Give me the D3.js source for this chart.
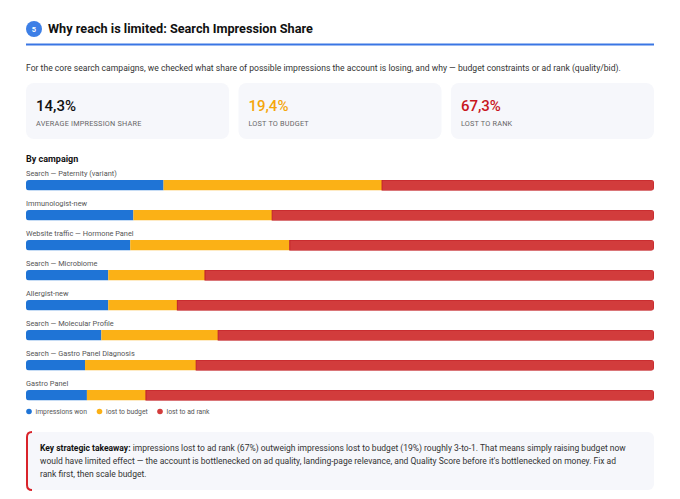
<!DOCTYPE html>
<html>
  <head>
    <meta charset="utf-8">
    <title>Search Impression Share</title>
    <script type="text/javascript" src="https://cdn.jsdelivr.net/npm/d3@7"></script>
    <style type='text/css'>
      body { margin: 0; background: #fff; }
      svg text { font-family: Roboto, 'Noto Sans', sans-serif; }
    </style>
  </head>
  <body>
    <script type="text/javascript">
      var w = 680;
      var h = 499;

      // share of possible impressions, % per campaign
      var campaigns = ['Search — Paternity (variant)', 'Immunologist-new', 'Website traffic — Hormone Panel',
                       'Search — Microbiome', 'Allergist-new', 'Search — Molecular Profile',
                       'Search — Gastro Panel Diagnosis', 'Gastro Panel'];
      var won    = [21.9, 17.1, 16.6, 13.1, 13.1, 12.0, 9.4, 9.7];
      var budget = [34.8, 22.1, 25.4, 15.4, 11.0, 18.6, 17.7, 9.4];
      var rank   = [43.3, 60.8, 58.0, 71.5, 75.9, 69.4, 72.9, 80.9];

      var seriesNames = ['impressions won', 'lost to budget', 'lost to ad rank'];
      var seriesColors = ['#1f74d6', '#fbb116', '#d23c3c'];

      var kpiValues = ['14,3%', '19,4%', '67,3%'];
      var kpiLabels = ['AVERAGE IMPRESSION SHARE', 'LOST TO BUDGET', 'LOST TO RANK'];
      var kpiColors = ['#111', '#f5a60a', '#c8161d'];

      var svg = d3.select('body')
                  .append('svg')
                  .attr('width', w)
                  .attr('height', h);

      // header
      svg.append('circle').attr('cx', 34).attr('cy', 29).attr('r', 8).attr('fill', '#3d7fe6');
      svg.append('text').text('5').attr('x', 34).attr('y', 31.8)
        .attr('text-anchor', 'middle').attr('font-size', '7.5px').attr('font-weight', 700).attr('fill', '#fff');
      svg.append('text').text('Why reach is limited: Search Impression Share')
        .attr('x', 48).attr('y', 32.5).attr('font-size', '12.7px').attr('font-weight', 700).attr('fill', '#111');
      svg.append('line').attr('x1', 26).attr('x2', 654).attr('y1', 44.5).attr('y2', 44.5)
        .attr('stroke', '#3a76e4').attr('stroke-width', 2);

      svg.append('text')
        .text('For the core search campaigns, we checked what share of possible impressions the account is losing, and why — budget constraints or ad rank (quality/bid).')
        .attr('x', 26).attr('y', 71).attr('font-size', '8.6px').attr('fill', '#333');

      // KPI cards
      var cardX = d3.scaleBand().domain(d3.range(3)).range([26, 654]).paddingInner(0.044);
      var cards = svg.selectAll('g.card')
        .data(kpiValues)
        .enter()
        .append('g')
        .attr('transform', function(d, i) {return 'translate(' + cardX(i) + ',83)';});
      cards.append('rect')
        .attr('width', cardX.bandwidth()).attr('height', 56).attr('rx', 8)
        .attr('fill', '#f6f7fb');
      cards.append('text')
        .text(function(d) {return d;})
        .attr('x', 10).attr('y', 27.5)
        .attr('font-size', '15px').attr('font-weight', 500)
        .attr('fill', function(d, i) {return kpiColors[i];});
      cards.append('text')
        .text(function(d, i) {return kpiLabels[i];})
        .attr('x', 10).attr('y', 43)
        .attr('font-size', '7.3px').attr('letter-spacing', '0.2px')
        .attr('fill', '#666');

      svg.append('text').text('By campaign')
        .attr('x', 26).attr('y', 162).attr('font-size', '9px').attr('font-weight', 700).attr('fill', '#111');

      // stacked bars
      var x = d3.scaleLinear().domain([0, 100]).range([26, 654]);
      var y = d3.scaleBand().domain(campaigns).range([166, 406]);
      var barH = 10.5;

      var rows = campaigns.map(function(c, i) {
        return {campaign: c, won: won[i], budget: budget[i], rank: rank[i]};
      });
      var stack = d3.stack().keys(['won', 'budget', 'rank']);
      var layers = stack(rows);

      var defs = svg.append('defs');
      defs.selectAll('clipPath')
        .data(campaigns)
        .enter()
        .append('clipPath')
        .attr('id', function(d, i) {return 'clip' + i;})
        .append('rect')
        .attr('x', x(0)).attr('y', function(d) {return y(d) + 14;})
        .attr('width', x(100) - x(0)).attr('height', barH).attr('rx', 3);

      svg.selectAll('text.cat')
        .data(campaigns)
        .enter()
        .append('text')
        .attr('class', 'cat')
        .text(function(d) {return d;})
        .attr('x', 26).attr('y', function(d) {return y(d) + 9.5;})
        .attr('font-size', '7.4px').attr('fill', '#555');

      layers.forEach(function(layer, k) {
        svg.append('g')
          .selectAll('rect')
          .data(layer)
          .enter()
          .append('rect')
          .attr('clip-path', function(d, i) {return 'url(#clip' + i + ')';})
          .attr('x', function(d) {return x(d[0]);})
          .attr('y', function(d) {return y(d.data.campaign) + 14;})
          .attr('width', function(d) {return x(d[1]) - x(d[0]);})
          .attr('height', barH)
          .attr('fill', seriesColors[k])
          .attr('stroke', k == 2 ? '#c01f24' : 'none')
          .attr('stroke-width', 1);
      });

      // legend
      var legX = [29, 99.5, 160];
      var leg = svg.selectAll('g.leg')
        .data(seriesNames)
        .enter()
        .append('g')
        .attr('transform', function(d, i) {return 'translate(' + legX[i] + ',411.5)';});
      leg.append('circle').attr('r', 2.8).attr('fill', function(d, i) {return seriesColors[i];});
      leg.append('text').text(function(d) {return d;})
        .attr('x', 6.5).attr('y', 2.5).attr('font-size', '6.8px').attr('fill', '#555');

      // takeaway box
      svg.append('rect').attr('x', 26).attr('y', 432).attr('width', 628).attr('height', 58)
        .attr('rx', 6).attr('fill', '#f6f7fb');
      svg.append('path').attr('d', 'M32,432 Q27,432 27,437 L27,485 Q27,490 32,490')
        .attr('fill', 'none').attr('stroke', '#d9232a').attr('stroke-width', 2);

      var lines = [
        ' impressions lost to ad rank (67%) outweigh impressions lost to budget (19%) roughly 3-to-1. That means simply raising budget now',
        'would have limited effect — the account is bottlenecked on ad quality, landing-page relevance, and Quality Score before it\'s bottlenecked on money. Fix ad',
        'rank first, then scale budget.'
      ];
      var note = svg.append('text').attr('font-size', '8.5px').attr('fill', '#333');
      lines.forEach(function(l, i) {
        var t = note.append('tspan').attr('x', 40).attr('y', 451 + i * 13);
        if (i == 0) {
          t.append('tspan').text('Key strategic takeaway:').attr('font-weight', 700).attr('fill', '#111');
          note.append('tspan').text(l);
        } else {
          t.text(l);
        }
      });
    </script>
  </body>
</html>
